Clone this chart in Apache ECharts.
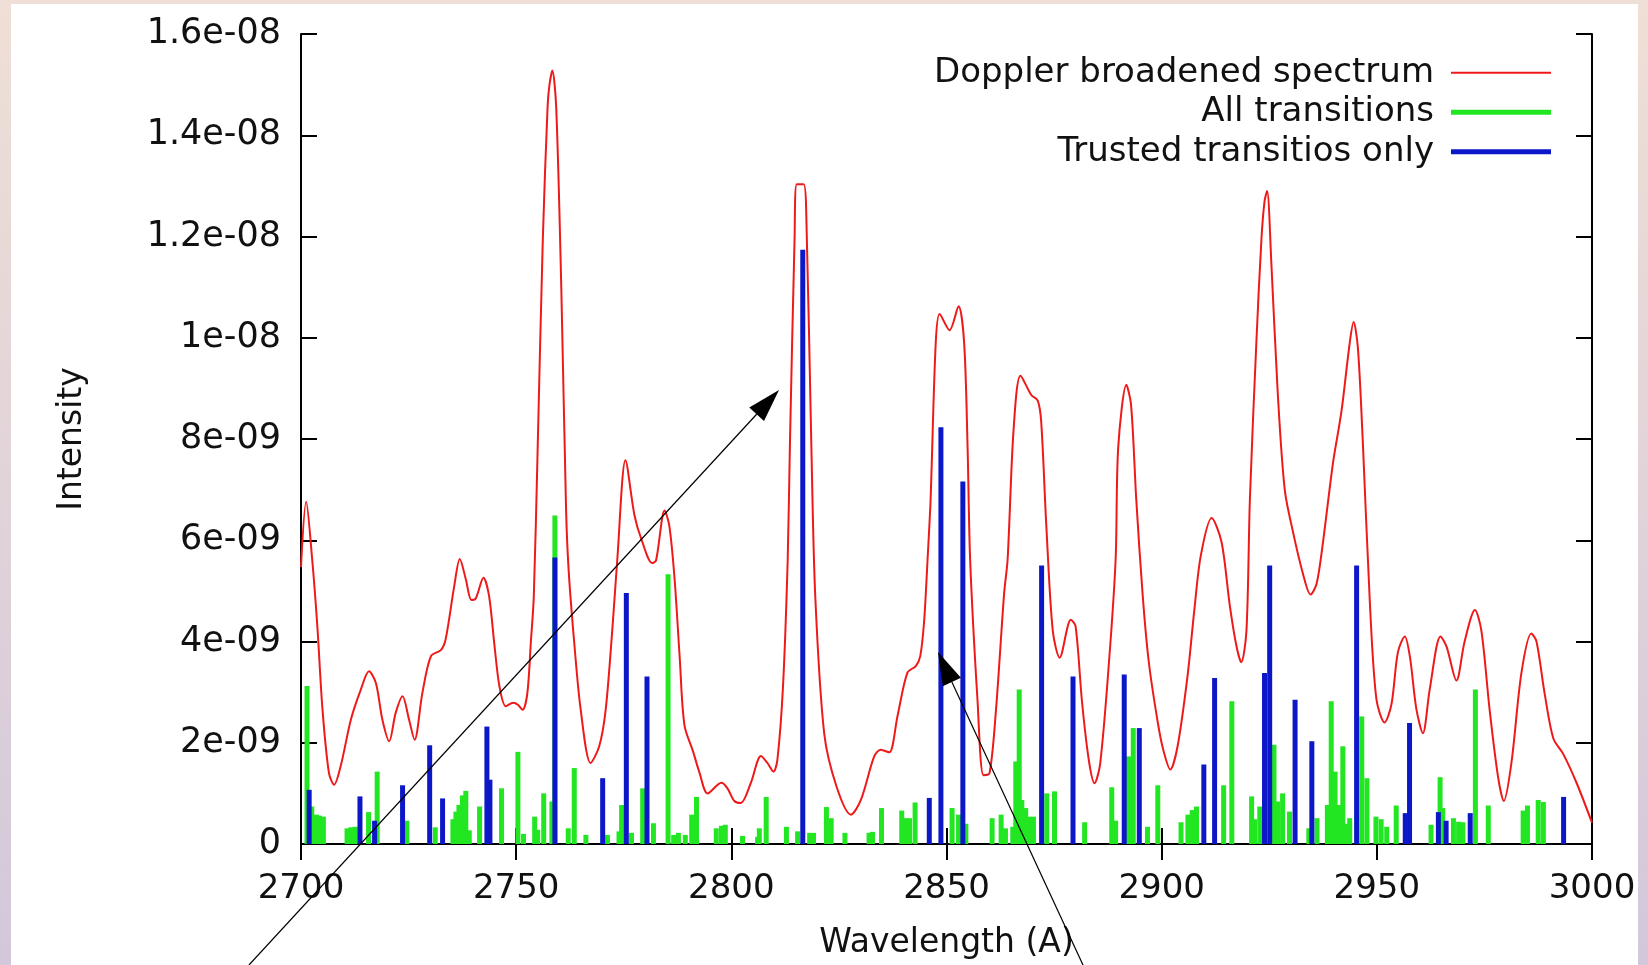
<!DOCTYPE html>
<html>
<head>
<meta charset="utf-8">
<script src="https://cdn.jsdelivr.net/npm/echarts@6/dist/echarts.min.js"></script>
<style>
html,body{margin:0;padding:0;background:#fff;}
#chart{width:1648px;height:965px;}
</style>
</head>
<body>
<div id="chart"></div>
<script>
// ---- Data ----
const xTickLabels = ['2700', '2750', '2800', '2850', '2900', '2950', '3000'];
const yTickLabels = ['0', '2e-09', '4e-09', '6e-09', '8e-09', '1e-08', '1.2e-08', '1.4e-08', '1.6e-08'];

// Doppler broadened spectrum (wavelength in A, intensity)
const dopplerWl = [
  2700.0, 2701.2, 2702.6, 2703.8, 2705.0, 2706.5, 2707.7, 2709.2, 2711.6, 2713.9,
  2715.8, 2717.4, 2718.9, 2720.5, 2722.0, 2723.6, 2725.1, 2726.4, 2728.2, 2730.2,
  2732.5, 2733.6, 2735.6, 2736.9, 2738.3, 2739.6, 2740.6, 2742.4, 2743.7, 2744.9,
  2746.1, 2747.6, 2749.3, 2750.4, 2751.5, 2752.6, 2753.4, 2754.1, 2755.0, 2756.2,
  2757.3, 2757.7, 2758.4, 2759.3, 2760.5, 2761.6, 2762.2, 2763.5, 2765.0, 2767.3,
  2769.3, 2770.8, 2772.4, 2773.5, 2775.4, 2777.5, 2779.1, 2781.6, 2782.5, 2784.5,
  2785.6, 2786.8, 2788.0, 2789.1, 2791.1, 2792.6, 2794.5, 2797.7, 2799.1, 2800.7,
  2802.2, 2804.5, 2806.9, 2808.4, 2809.8, 2810.7, 2812.0, 2813.1, 2813.6, 2814.7,
  2815.2, 2816.8, 2817.4, 2818.6, 2819.5, 2821.6, 2824.5, 2827.8, 2830.1, 2833.2,
  2834.7, 2836.7, 2838.6, 2840.9, 2842.9, 2843.9, 2844.8, 2845.6, 2846.3, 2847.5,
  2848.4, 2850.7, 2852.8, 2854.1, 2854.9, 2855.5, 2857.2, 2858.6, 2860.0, 2861.5,
  2863.4, 2864.2, 2865.6, 2867.2, 2869.7, 2871.2, 2872.0, 2873.2, 2874.7, 2876.3,
  2878.9, 2880.0, 2881.5, 2883.1, 2884.4, 2885.7, 2887.8, 2889.3, 2889.9, 2891.8,
  2892.9, 2894.1, 2895.6, 2897.0, 2899.1, 2900.4, 2902.0, 2903.7, 2906.0, 2907.6,
  2909.1, 2911.6, 2913.9, 2915.8, 2917.4, 2918.5, 2919.7, 2920.5, 2922.0, 2923.2,
  2923.9, 2924.5, 2925.5, 2927.0, 2928.6, 2930.5, 2932.8, 2934.6, 2936.0, 2937.5,
  2939.8, 2941.8, 2943.7, 2944.6, 2945.6, 2946.8, 2948.4, 2949.9, 2951.8, 2953.4,
  2954.9, 2956.5, 2957.7, 2959.2, 2960.7, 2962.3, 2964.8, 2966.2, 2968.5, 2970.4,
  2972.8, 2974.3, 2976.2, 2978.2, 2979.5, 2981.3, 2983.6, 2985.9, 2987.1, 2989.0,
  2991.0, 2993.3, 2996.4, 3000.0
];
const dopplerInt = [
  5.47e-9, 6.76e-9, 5.62e-9, 4.30e-9, 2.65e-9, 1.40e-9, 1.17e-9, 1.53e-9, 2.46e-9, 3.05e-9,
  3.41e-9, 3.18e-9, 2.46e-9, 2.03e-9, 2.59e-9, 2.92e-9, 2.46e-9, 2.06e-9, 2.98e-9, 3.71e-9,
  3.83e-9, 4.04e-9, 5.09e-9, 5.63e-9, 5.23e-9, 4.82e-9, 4.85e-9, 5.26e-9, 4.90e-9, 3.97e-9,
  3.12e-9, 2.72e-9, 2.79e-9, 2.75e-9, 2.65e-9, 2.98e-9, 3.97e-9, 4.90e-9, 7.83e-9, 1.197e-8,
  1.456e-8, 1.497e-8, 1.528e-8, 1.456e-8, 1.094e-8, 6.60e-9, 5.40e-9, 3.97e-9, 2.65e-9, 1.60e-9,
  1.93e-9, 2.65e-9, 4.30e-9, 5.62e-9, 7.58e-9, 6.49e-9, 6.02e-9, 5.55e-9, 5.60e-9, 6.59e-9,
  6.28e-9, 5.25e-9, 3.69e-9, 2.35e-9, 1.83e-9, 1.41e-9, 1.00e-9, 1.21e-9, 1.10e-9, 0.85e-9,
  0.81e-9, 1.20e-9, 1.74e-9, 1.60e-9, 1.43e-9, 1.66e-9, 3.10e-9, 5.62e-9, 7.83e-9, 1.197e-8,
  1.303e-8, 1.303e-8, 1.249e-8, 7.83e-9, 4.90e-9, 2.17e-9, 1.12e-9, 0.58e-9, 0.87e-9, 1.73e-9,
  1.86e-9, 1.81e-9, 2.52e-9, 3.38e-9, 3.52e-9, 3.71e-9, 4.40e-9, 5.62e-9, 6.80e-9, 9.90e-9,
  1.047e-8, 1.015e-8, 1.062e-8, 9.90e-9, 7.83e-9, 5.60e-9, 2.85e-9, 1.36e-9, 1.40e-9, 2.65e-9,
  4.96e-9, 5.62e-9, 8.20e-9, 9.25e-9, 8.87e-9, 8.76e-9, 8.35e-9, 6.28e-9, 4.21e-9, 3.68e-9,
  4.43e-9, 4.30e-9, 2.80e-9, 1.64e-9, 1.20e-9, 1.58e-9, 3.64e-9, 5.62e-9, 7.83e-9, 9.07e-9,
  8.66e-9, 6.80e-9, 4.90e-9, 3.60e-9, 2.40e-9, 1.85e-9, 1.47e-9, 1.93e-9, 3.31e-9, 4.63e-9,
  5.70e-9, 6.44e-9, 5.97e-9, 4.73e-9, 3.90e-9, 3.59e-9, 4.21e-9, 6.80e-9, 9.90e-9, 1.197e-8,
  1.269e-8, 1.290e-8, 1.145e-8, 8.87e-9, 7.00e-9, 6.17e-9, 5.35e-9, 4.93e-9, 5.14e-9, 5.97e-9,
  7.52e-9, 8.56e-9, 9.90e-9, 1.031e-8, 9.80e-9, 7.83e-9, 4.73e-9, 2.86e-9, 2.40e-9, 2.76e-9,
  3.79e-9, 4.10e-9, 3.69e-9, 2.66e-9, 2.19e-9, 3.06e-9, 4.10e-9, 3.90e-9, 3.23e-9, 4.00e-9,
  4.62e-9, 4.21e-9, 2.66e-9, 1.31e-9, 0.85e-9, 1.62e-9, 3.38e-9, 4.16e-9, 4.00e-9, 2.97e-9,
  2.09e-9, 1.78e-9, 1.21e-9, 0.42e-9
];

// All transitions (green impulses)
const allWl = [
  2701.4, 2702.5, 2703.6, 2704.3, 2705.2, 2710.7, 2711.6, 2712.6, 2715.7, 2717.7,
  2724.6, 2731.2, 2735.3, 2736.0, 2736.7, 2737.5, 2738.3, 2739.1, 2741.5, 2746.6,
  2750.4, 2751.7, 2754.3, 2755.0, 2756.4, 2758.3, 2759.0, 2762.1, 2763.5, 2766.2,
  2771.2, 2773.9, 2774.5, 2776.8, 2779.4, 2781.9, 2785.3, 2786.6, 2787.7, 2789.3,
  2790.8, 2791.9, 2796.5, 2797.7, 2798.6, 2802.6, 2806.1, 2806.5, 2808.1, 2812.8,
  2815.4, 2818.2, 2819.1, 2822.1, 2823.2, 2826.4, 2832.0, 2832.8, 2834.9, 2839.6,
  2840.6, 2841.4, 2842.7, 2851.3, 2852.8, 2854.5, 2860.6, 2862.7, 2863.7, 2865.4,
  2866.1, 2866.9, 2867.5, 2868.4, 2869.2, 2870.2, 2873.3, 2875.1, 2882.1, 2888.4,
  2889.3, 2892.3, 2893.4, 2896.7, 2899.1, 2904.5, 2906.1, 2907.1, 2908.1, 2914.4,
  2916.3, 2920.9, 2921.6, 2922.8, 2926.1, 2927.0, 2928.1, 2929.7, 2934.2, 2936.1,
  2938.5, 2939.4, 2940.3, 2941.1, 2942.1, 2942.8, 2943.7, 2946.5, 2947.7, 2949.8,
  2951.0, 2952.3, 2954.5, 2962.6, 2964.7, 2965.3, 2967.8, 2969.0, 2970.0, 2972.9,
  2975.9, 2984.0, 2985.0, 2987.5, 2988.7
];
const allInt = [
  3.12e-9, 0.74e-9, 0.58e-9, 0.56e-9, 0.54e-9, 0.31e-9, 0.33e-9, 0.34e-9, 0.63e-9, 1.43e-9,
  0.46e-9, 0.33e-9, 0.49e-9, 0.64e-9, 0.77e-9, 0.96e-9, 1.05e-9, 0.27e-9, 0.74e-9, 1.10e-9,
  1.82e-9, 0.20e-9, 0.54e-9, 0.28e-9, 1.00e-9, 0.84e-9, 6.49e-9, 0.31e-9, 1.50e-9, 0.18e-9,
  0.18e-9, 0.25e-9, 0.77e-9, 0.22e-9, 1.10e-9, 0.41e-9, 5.33e-9, 0.18e-9, 0.22e-9, 0.18e-9,
  0.58e-9, 0.93e-9, 0.31e-9, 0.36e-9, 0.38e-9, 0.16e-9, 0.14e-9, 0.31e-9, 0.93e-9, 0.34e-9,
  0.25e-9, 0.22e-9, 0.22e-9, 0.73e-9, 0.51e-9, 0.22e-9, 0.22e-9, 0.24e-9, 0.71e-9, 0.66e-9,
  0.51e-9, 0.51e-9, 0.82e-9, 0.71e-9, 0.58e-9, 0.40e-9, 0.51e-9, 0.58e-9, 0.31e-9, 0.34e-9,
  1.63e-9, 3.05e-9, 0.87e-9, 0.71e-9, 0.54e-9, 0.54e-9, 1.00e-9, 1.04e-9, 0.43e-9, 1.12e-9,
  0.46e-9, 1.73e-9, 2.29e-9, 0.34e-9, 1.16e-9, 0.43e-9, 0.58e-9, 0.67e-9, 0.74e-9, 1.16e-9,
  2.82e-9, 0.94e-9, 0.49e-9, 0.74e-9, 1.96e-9, 0.84e-9, 1.00e-9, 0.64e-9, 0.31e-9, 0.51e-9,
  0.77e-9, 2.82e-9, 1.43e-9, 0.77e-9, 1.93e-9, 0.40e-9, 0.51e-9, 2.52e-9, 1.30e-9, 0.54e-9,
  0.49e-9, 0.34e-9, 0.76e-9, 0.38e-9, 1.32e-9, 0.71e-9, 0.51e-9, 0.44e-9, 0.43e-9, 3.05e-9,
  0.76e-9, 0.66e-9, 0.76e-9, 0.87e-9, 0.83e-9
];

// Trusted transitions only (blue impulses)
const trustedWl = [
  2701.9, 2713.7, 2717.1, 2723.6, 2729.9, 2732.9, 2743.2, 2743.9, 2759.0, 2770.1,
  2775.6, 2780.4, 2816.6, 2846.0, 2848.7, 2853.8, 2872.1, 2879.4, 2891.3, 2894.8,
  2909.8, 2912.3, 2923.9, 2925.1, 2931.0, 2934.9, 2945.3, 2956.6, 2957.6, 2964.3,
  2966.1, 2971.7, 2993.4
];
const trustedInt = [
  1.07e-9, 0.94e-9, 0.46e-9, 1.16e-9, 1.95e-9, 0.90e-9, 2.32e-9, 1.27e-9, 5.66e-9, 1.30e-9,
  4.96e-9, 3.31e-9, 1.174e-8, 0.91e-9, 8.23e-9, 7.16e-9, 5.50e-9, 3.31e-9, 3.35e-9, 2.29e-9,
  1.57e-9, 3.28e-9, 3.38e-9, 5.50e-9, 2.85e-9, 2.03e-9, 5.50e-9, 0.61e-9, 2.39e-9, 0.63e-9,
  0.46e-9, 0.61e-9, 0.93e-9
];

const seriesNames = ['Doppler broadened spectrum', 'All transitions', 'Trusted transitios only'];

// ---- Chart ----
const FONT = 'DejaVu Sans';
const TXT = '#111111';
const zip = (a, b) => a.map((v, i) => [v, b[i]]);

function arrow(x1, y1, x2, y2) {
  const dx = x2 - x1, dy = y2 - y1, len = Math.hypot(dx, dy);
  const ux = dx / len, uy = dy / len, nx = -uy, ny = ux;
  const hl = 33, hw = 10;
  const bx = x2 - ux * hl, by = y2 - uy * hl;
  return [
    { type: 'line', z: 100, silent: true, shape: { x1: x1, y1: y1, x2: bx, y2: by },
      style: { stroke: '#000', lineWidth: 1.2 } },
    { type: 'polygon', z: 100, silent: true,
      shape: { points: [[x2, y2], [bx + nx * hw, by + ny * hw], [bx - nx * hw, by - ny * hw]] },
      style: { fill: '#000' } }
  ];
}

const axisLineStyle = { color: '#000', width: 2 };
const tickStyle = { inside: true, length: 16, lineStyle: { color: '#000', width: 2 } };

const chart = echarts.init(document.getElementById('chart'), null, { renderer: 'canvas' });
chart.setOption({
  animation: false,
  backgroundColor: '#ffffff',
  grid: { left: 301, right: 56, top: 34, bottom: 121, containLabel: false },
  graphic: [
    { type: 'rect', z: -100, silent: true, shape: { x: 0, y: 0, width: 1648, height: 965 },
      style: { fill: new echarts.graphic.LinearGradient(0, 0, 0, 1, [
        { offset: 0, color: '#efdfd6' }, { offset: 1, color: '#d3c8db' }]) } },
    { type: 'rect', z: -99, silent: true, shape: { x: 11, y: 4, width: 1627, height: 961 },
      style: { fill: '#ffffff' } }
  ].concat(arrow(249, 965, 779, 390), arrow(1083, 965, 938, 652)),
  legend: {
    orient: 'vertical', right: 92, top: 48, align: 'right',
    itemWidth: 100, itemHeight: 14, itemGap: 0, selectedMode: false,
    textStyle: { fontFamily: FONT, fontSize: 34, color: TXT, lineHeight: 39.5, padding: [0, 12, 0, 0] },
    data: [
      { name: seriesNames[0], icon: 'path://M0,0H100V2H0Z' },
      { name: seriesNames[1], icon: 'path://M0,0H100V5H0Z' },
      { name: seriesNames[2], icon: 'path://M0,0H100V5H0Z' }
    ]
  },
  xAxis: [
    {
      type: 'value', min: 2700, max: 3000, interval: 50, position: 'bottom',
      name: 'Wavelength (A)', nameLocation: 'middle', nameGap: 83,
      nameTextStyle: { fontFamily: FONT, fontSize: 33, color: TXT },
      axisLine: { show: true, lineStyle: axisLineStyle },
      axisTick: tickStyle,
      splitLine: { show: false },
      axisLabel: { fontFamily: FONT, fontSize: 34, color: TXT, margin: 28,
        formatter: (v) => xTickLabels[Math.round((v - 2700) / 50)] }
    },
    {
      type: 'value', min: 2700, max: 3000, interval: 50, position: 'top',
      axisLine: { show: true, lineStyle: axisLineStyle },
      axisTick: tickStyle, axisLabel: { show: false }, splitLine: { show: false }
    }
  ],
  yAxis: [
    {
      type: 'value', min: 0, max: 1.6e-8, interval: 2e-9, position: 'left',
      name: 'Intensity', nameLocation: 'middle', nameGap: 212, nameRotate: 90,
      nameTextStyle: { fontFamily: FONT, fontSize: 33, color: TXT },
      axisLine: { show: true, lineStyle: axisLineStyle },
      axisTick: tickStyle,
      splitLine: { show: false },
      axisLabel: { fontFamily: FONT, fontSize: 35, color: TXT, margin: 20,
        formatter: (v) => yTickLabels[Math.round(v / 2e-9)] }
    },
    {
      type: 'value', min: 0, max: 1.6e-8, interval: 2e-9, position: 'right',
      axisLine: { show: true, lineStyle: axisLineStyle },
      axisTick: tickStyle, axisLabel: { show: false }, splitLine: { show: false }
    }
  ],
  series: [
    {
      name: seriesNames[0], type: 'line', xAxisIndex: 0, yAxisIndex: 0,
      data: zip(dopplerWl, dopplerInt), symbol: 'none', showSymbol: false,
      smooth: 0.3, color: '#ee1a1a',
      lineStyle: { color: '#ee1a1a', width: 2 }
    },
    {
      name: seriesNames[1], type: 'bar', xAxisIndex: 0, yAxisIndex: 0,
      data: zip(allWl, allInt), barWidth: 5, barGap: '-100%', color: '#22e622',
      itemStyle: { color: '#22e622' }
    },
    {
      name: seriesNames[2], type: 'bar', xAxisIndex: 0, yAxisIndex: 0,
      data: zip(trustedWl, trustedInt), barWidth: 5, barGap: '-100%', color: '#0c18c8',
      itemStyle: { color: '#0c18c8' }
    }
  ]
});
</script>
</body>
</html>
